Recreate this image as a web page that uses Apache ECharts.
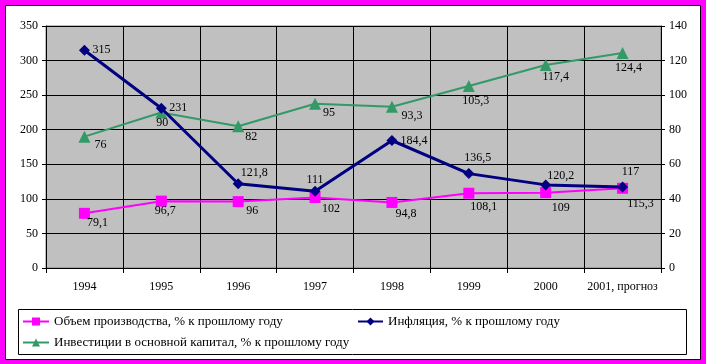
<!DOCTYPE html>
<html><head><meta charset="utf-8">
<script src="https://cdn.jsdelivr.net/npm/echarts@6/dist/echarts.min.js"></script>
<style>html,body{margin:0;padding:0;background:#FF00FF;}#c{width:706px;height:364px;}</style>
</head><body><div id="c"></div>
<script>
const categories = ['1994','1995','1996','1997','1998','1999','2000','2001, прогноз'];
const production = [79.1, 96.7, 96, 102, 94.8, 108.1, 109, 115.3];
const inflation = [315, 231, 121.8, 111, 184.4, 136.5, 120.2, 117];
const investment = [76, 90, 82, 95, 93.3, 105.3, 117.4, 124.4];
const leftTicks = [0, 50, 100, 150, 200, 250, 300, 350];
const rightTicks = [0, 20, 40, 60, 80, 100, 120, 140];
const seriesNames = ['Объем производства, % к прошлому году', 'Инфляция, % к прошлому году', 'Инвестиции в основной капитал, % к прошлому году'];

// label offsets (style only)
const prodOff = [[13,10],[4,10],[14,9],[16,11],[14,11],[15,14],[15,15],[18,16]];
const inflOff = [[17,0],[17,0],[16,-11],[0,-11],[22,0],[9,-16],[15,-9],[8,-15]];
const invOff = [[16,8],[1,10],[13,11],[14,9],[20,9],[7,15],[10,12],[6,15]];

const FONT = 'Liberation Serif';
const fmt = v => String(v).replace('.', ',');
function build(vals, offs) {
  return vals.map((v, i) => ({value: v, label: {offset: offs[i]}}));
}
const lab = {show: true, position: 'inside', align: 'center', verticalAlign: 'middle',
  fontFamily: FONT, fontSize: 12, color: '#000', formatter: p => fmt(p.value)};
const legText = {fontFamily: FONT, fontSize: 13, color: '#000'};

const chart = echarts.init(document.getElementById('c'), null, {renderer: 'canvas'});
chart.setOption({
  backgroundColor: '#FF00FF',
  animation: false,
  textStyle: {fontFamily: FONT, color: '#000'},
  graphic: [
    {type: 'rect', shape: {x: 5.5, y: 5.5, width: 695, height: 354}, style: {fill: '#fff', stroke: '#000', lineWidth: 1}, z: -10},
    {type: 'rect', shape: {x: 18.5, y: 309.5, width: 668, height: 45}, style: {fill: '#fff', stroke: '#000', lineWidth: 1}, z: -5}
  ],
  grid: {left: 46, right: 45, top: 26, bottom: 96, show: true, backgroundColor: '#C0C0C0', borderColor: '#808080', borderWidth: 1},
  legend: [
    {data: [seriesNames[0]], left: 22, top: 315, padding: 0, itemWidth: 26, itemHeight: 10, textStyle: legText},
    {data: [seriesNames[1]], left: 357, top: 315, padding: 0, itemWidth: 25, itemHeight: 10, textStyle: legText},
    {data: [seriesNames[2]], left: 22, top: 336, padding: 0, itemWidth: 26, itemHeight: 10, textStyle: legText}
  ],
  xAxis: {
    type: 'category', data: categories, boundaryGap: true,
    axisLine: {show: true, lineStyle: {color: '#000', width: 1}},
    axisTick: {show: true, length: 5, interval: 0, lineStyle: {color: '#000'}},
    axisLabel: {interval: 0, margin: 13, fontFamily: FONT, fontSize: 12, color: '#000'},
    splitLine: {show: true, interval: 0, lineStyle: {color: '#000', width: 1}}
  },
  yAxis: [
    {type: 'value', min: leftTicks[0], max: leftTicks[leftTicks.length-1], interval: leftTicks[1]-leftTicks[0], position: 'left',
     axisLine: {show: true, lineStyle: {color: '#000'}},
     axisTick: {show: true, length: 4, lineStyle: {color: '#000'}},
     axisLabel: {margin: 8, fontFamily: FONT, fontSize: 12, color: '#000'},
     splitLine: {show: true, lineStyle: {color: '#000', width: 1}}},
    {type: 'value', min: rightTicks[0], max: rightTicks[rightTicks.length-1], interval: rightTicks[1]-rightTicks[0], position: 'right',
     axisLine: {show: true, lineStyle: {color: '#000'}},
     axisTick: {show: true, length: 4, lineStyle: {color: '#000'}},
     axisLabel: {margin: 8, fontFamily: FONT, fontSize: 12, color: '#000'},
     splitLine: {show: false}}
  ],
  series: [
    {name: seriesNames[0], type: 'line', yAxisIndex: 0, data: build(production, prodOff),
     symbol: 'rect', symbolSize: 11, color: '#FF00FF', lineStyle: {color: '#FF00FF', width: 2},
     itemStyle: {color: '#FF00FF'}, label: lab, z: 3},
    {name: seriesNames[1], type: 'line', yAxisIndex: 0, data: build(inflation, inflOff),
     symbol: 'diamond', symbolSize: 11, color: '#000080', lineStyle: {color: '#000080', width: 3},
     itemStyle: {color: '#000080'}, label: lab, z: 4},
    {name: seriesNames[2], type: 'line', yAxisIndex: 1, data: build(investment, invOff),
     symbol: 'triangle', symbolSize: 12, color: '#339966', lineStyle: {color: '#339966', width: 2},
     itemStyle: {color: '#339966'}, label: lab, z: 3}
  ]
});
</script></body></html>
